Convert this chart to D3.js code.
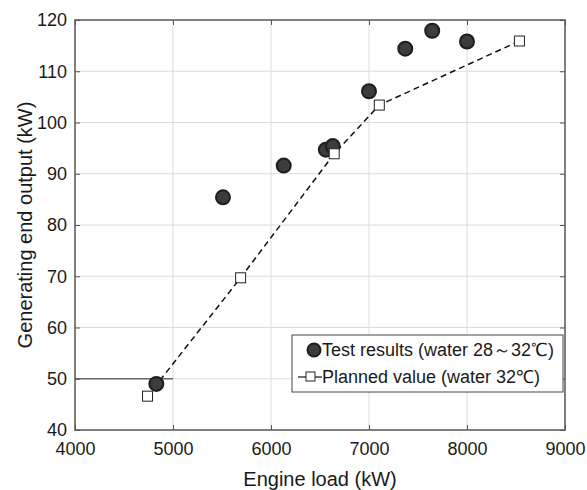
<!DOCTYPE html>
<html>
<head>
<meta charset="utf-8">
<script src="https://cdn.jsdelivr.net/npm/d3@7"></script>
<style>
  body { margin: 0; background: #fff; }
  text { font-family: "Liberation Sans", Arial, sans-serif; fill: #1a1a1a; }
</style>
</head>
<body>
<div id="chart"></div>
<script>
// test results (circles)
const testLoad = [4830, 5510, 6130, 6560, 6630, 7000, 7370, 7645, 8000];
const testOutput = [49.0, 85.4, 91.6, 94.7, 95.4, 106.1, 114.4, 117.9, 115.8];

// planned values (squares + dashed line)
const planLoad = [4740, 5690, 6645, 7105, 8535];
const planOutput = [46.6, 69.7, 93.9, 103.4, 115.9];

const xTicks = [4000, 5000, 6000, 7000, 8000, 9000];
const yTicks = [40, 50, 60, 70, 80, 90, 100, 110, 120];

const legendLabels = ["Test results (water 28～32℃)", "Planned value (water 32℃)"];

const width = 587, height = 490;
const margin = { top: 20, right: 22, bottom: 60, left: 75 };
const w = width - margin.left - margin.right;
const h = height - margin.top - margin.bottom;

const svg = d3.select("#chart").append("svg")
  .attr("width", width).attr("height", height);

const g = svg.append("g")
  .attr("transform", `translate(${margin.left},${margin.top})`);

const x = d3.scaleLinear().domain([4000, 9000]).range([0, w]);
const y = d3.scaleLinear().domain([40, 120]).range([h, 0]);

// grid
g.append("g").selectAll("line").data(xTicks.slice(1, -1)).join("line")
  .attr("x1", d => x(d)).attr("x2", d => x(d))
  .attr("y1", 0).attr("y2", h)
  .attr("stroke", "#dcdcdc").attr("stroke-width", 1);
g.append("g").selectAll("line").data(yTicks.slice(1, -1)).join("line")
  .attr("x1", 0).attr("x2", w)
  .attr("y1", d => y(d)).attr("y2", d => y(d))
  .attr("stroke", "#dcdcdc").attr("stroke-width", 1);

// reference line at 50 kW
g.append("line")
  .attr("x1", x(4000)).attr("x2", x(5000))
  .attr("y1", y(50)).attr("y2", y(50))
  .attr("stroke", "#666").attr("stroke-width", 1.5);

// axes (ticks inward, box on)
const axisStyle = sel => {
  sel.select(".domain").remove();
  sel.selectAll(".tick line").attr("stroke", "#555");
  sel.selectAll(".tick text").style("font-size", "18px")
    .style("font-family", "'Liberation Sans', Arial, sans-serif").attr("fill", "#1a1a1a");
};

g.append("g").attr("transform", `translate(0,${h})`)
  .call(d3.axisBottom(x).tickValues(xTicks).tickSize(-5).tickPadding(12).tickFormat(d3.format("d")))
  .call(axisStyle);
g.append("g")
  .call(d3.axisLeft(y).tickValues(yTicks).tickSize(-5).tickPadding(8))
  .call(axisStyle);
g.append("g")
  .call(d3.axisTop(x).tickValues(xTicks).tickSize(-5).tickFormat(""))
  .call(axisStyle);
g.append("g").attr("transform", `translate(${w},0)`)
  .call(d3.axisRight(y).tickValues(yTicks).tickSize(-5).tickFormat(""))
  .call(axisStyle);

g.append("rect")
  .attr("width", w).attr("height", h)
  .attr("fill", "none").attr("stroke", "#555").attr("stroke-width", 1.5);

// planned line
const planData = planLoad.map((d, i) => ({ x: d, y: planOutput[i] }));
g.append("path")
  .datum(planData)
  .attr("fill", "none")
  .attr("stroke", "#111")
  .attr("stroke-width", 1.5)
  .attr("stroke-dasharray", "6,4")
  .attr("d", d3.line().x(d => x(d.x)).y(d => y(d.y)));

// test points
const testData = testLoad.map((d, i) => ({ x: d, y: testOutput[i] }));
g.append("g").selectAll("circle").data(testData).join("circle")
  .attr("cx", d => x(d.x)).attr("cy", d => y(d.y))
  .attr("r", 7)
  .attr("fill", "#3c3c3c").attr("stroke", "#1e1e1e").attr("stroke-width", 2);

// planned squares
g.append("g").selectAll("rect").data(planData).join("rect")
  .attr("x", d => x(d.x) - 5).attr("y", d => y(d.y) - 5)
  .attr("width", 10).attr("height", 10)
  .attr("fill", "#fff").attr("stroke", "#222").attr("stroke-width", 1);

// legend
const lg = svg.append("g").attr("transform", "translate(292,335)");
lg.append("rect").attr("width", 271).attr("height", 57)
  .attr("fill", "#fff").attr("stroke", "#444").attr("stroke-width", 1);
lg.append("circle").attr("cx", 22).attr("cy", 15).attr("r", 6.5)
  .attr("fill", "#3c3c3c").attr("stroke", "#1e1e1e").attr("stroke-width", 2);
lg.append("line").attr("x1", 6).attr("x2", 30).attr("y1", 42).attr("y2", 42)
  .attr("stroke", "#111").attr("stroke-width", 1.2);
lg.append("rect").attr("x", 14).attr("y", 37).attr("width", 9).attr("height", 9)
  .attr("fill", "#fff").attr("stroke", "#222").attr("stroke-width", 1);
lg.selectAll("text.lab").data(legendLabels).join("text")
  .attr("class", "lab")
  .attr("x", 30).attr("y", (d, i) => 21 + i * 27)
  .style("font-size", "18px")
  .text(d => d);

// axis titles
svg.append("text")
  .attr("x", margin.left + w / 2).attr("y", 486)
  .attr("text-anchor", "middle").style("font-size", "20px")
  .text("Engine load (kW)");
svg.append("text")
  .attr("transform", `translate(32,${margin.top + h / 2}) rotate(-90)`)
  .attr("text-anchor", "middle").style("font-size", "20px")
  .text("Generating end output (kW)");
</script>
</body>
</html>
